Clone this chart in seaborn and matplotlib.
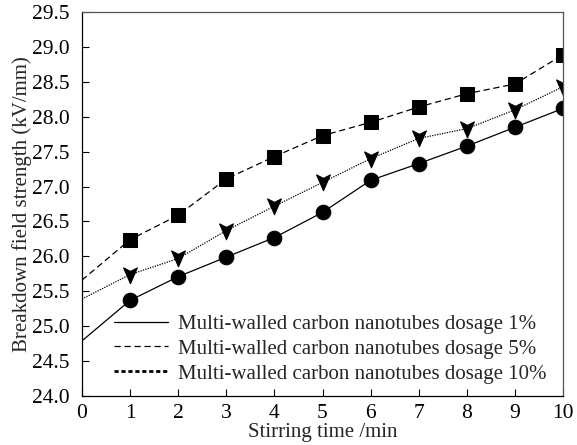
import matplotlib
matplotlib.use("Agg")
import matplotlib.pyplot as plt
from matplotlib.lines import Line2D
from matplotlib.path import Path
import seaborn as sns

sns.set_style("white")
plt.rcParams['font.family'] = ['Liberation Serif', 'DejaVu Serif']

stir_time = [0, 1, 2, 3, 4, 5, 6, 7, 8, 9, 10]
dosage_1 = [24.79, 25.37, 25.71, 25.99, 26.27, 26.63, 27.09, 27.33, 27.58, 27.85, 28.12]
dosage_5 = [25.66, 26.24, 26.59, 27.11, 27.43, 27.73, 27.92, 28.14, 28.33, 28.47, 28.89]
dosage_10 = [25.39, 25.74, 25.97, 26.37, 26.72, 27.06, 27.40, 27.69, 27.83, 28.10, 28.43]
labels = ["Multi-walled carbon nanotubes dosage 1%",
          "Multi-walled carbon nanotubes dosage 5%",
          "Multi-walled carbon nanotubes dosage 10%"]

arrow = Path([(-0.5, 0.55), (0.0, 0.3), (0.5, 0.55), (0.0, -0.6), (-0.5, 0.55)],
             [Path.MOVETO, Path.LINETO, Path.LINETO, Path.LINETO, Path.CLOSEPOLY])

fig = plt.figure(figsize=(5.77, 4.45), dpi=100)
ax = fig.add_axes([0.142, 0.110, 0.834, 0.863])

mk = list(range(1, len(stir_time)))
sns.lineplot(x=stir_time, y=dosage_1, ax=ax, color='black', lw=0.9, ls='-',
             marker='o', markersize=10.5, markevery=mk, markeredgecolor='black')
sns.lineplot(x=stir_time, y=dosage_5, ax=ax, color='black', lw=0.9, ls=(0, (5, 3)),
             marker='s', markersize=10.5, markevery=mk, markeredgecolor='black')
sns.lineplot(x=stir_time, y=dosage_10, ax=ax, color='black', lw=0.9, ls=(0, (1, 1)),
             marker=arrow, markersize=12, markevery=mk, markeredgecolor='black')

ax.set_xlim(0, 10)
ax.set_ylim(24.0, 29.5)
ax.set_xticks(range(0, 11))
ax.set_yticks([24.0 + 0.5 * i for i in range(12)])
ax.set_yticklabels([f"{24.0 + 0.5 * i:.1f}" for i in range(12)])
ax.tick_params(direction='in', length=5, width=0.8, labelsize=15.5,
               top=False, right=False, bottom=True, left=True, colors='black')
ax.tick_params(axis='y', pad=9)
ax.tick_params(axis='x', pad=6)
for s in ax.spines.values():
    s.set_color('#555555')
    s.set_linewidth(0.9)
ax.spines['left'].set_color('black')
ax.spines['bottom'].set_color('black')

ax.set_xlabel("Stirring time /min", fontsize=15, labelpad=0)
ax.set_ylabel("Breakdown field strength (kV/mm)", fontsize=15, labelpad=0)

handles = [Line2D([], [], color='black', lw=0.9, ls='-'),
           Line2D([], [], color='black', lw=0.9, ls=(0, (5, 3))),
           Line2D([], [], color='black', lw=2.0, ls=(0, (1.5, 1)))]
ax.legend(handles, labels, loc='lower left', bbox_to_anchor=(0.04, 0.0),
          frameon=False, fontsize=15, handlelength=2.6, handletextpad=0.5,
          labelspacing=0.25, borderaxespad=0.2)

fig.savefig("out.png", dpi=100)
